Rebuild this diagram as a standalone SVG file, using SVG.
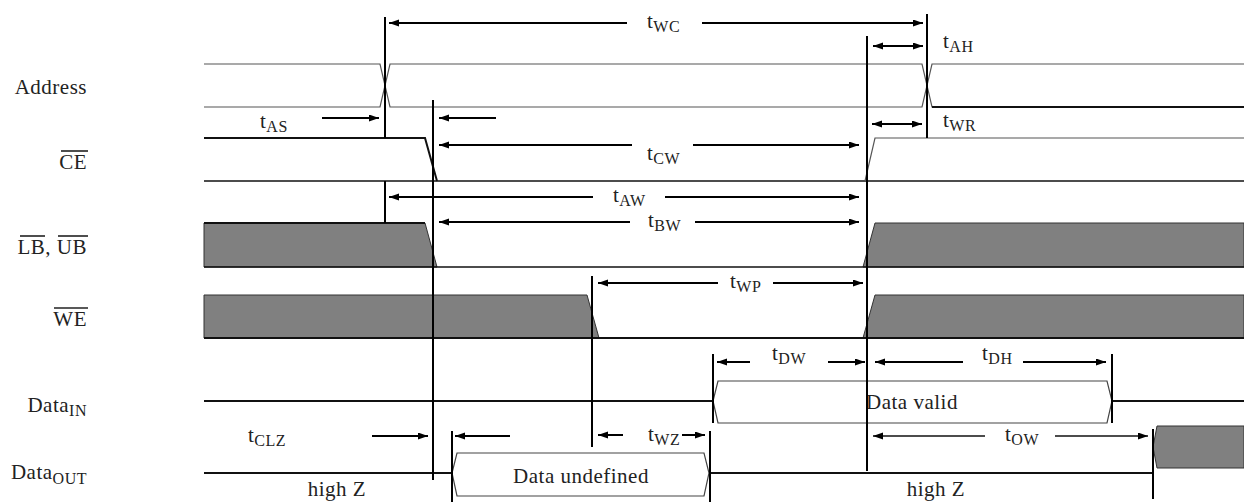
<svg xmlns="http://www.w3.org/2000/svg" width="1244" height="504" viewBox="0 0 1244 504">
<style>
text{font-family:"Liberation Serif","Times New Roman",serif;font-size:21px;fill:#222;letter-spacing:0.5px}
.lbl{text-anchor:end}
.sub{font-size:16px}
.thin{fill:none;stroke:#555;stroke-width:1.2}
.thick{fill:none;stroke:#111;stroke-width:2}
.gray{fill:#808080;stroke:#333;stroke-width:1}
.hex{fill:#fff;stroke:#444;stroke-width:1.2}
.vl{stroke:#000;stroke-width:2}
.ar{stroke:#000;stroke-width:2;marker-end:url(#ah)}
.arw{stroke:#111;stroke-width:1.4;marker-end:url(#ah)}
.dar{stroke:#000;stroke-width:2;marker-start:url(#ah);marker-end:url(#ah)}
.ovl{stroke:#222;stroke-width:1.6}
</style>
<defs>
<marker id="ah" markerUnits="userSpaceOnUse" markerWidth="11" markerHeight="8" refX="10" refY="3.5" orient="auto-start-reverse">
<path d="M0,0 L10,3.5 L0,7 z" fill="#000"/>
</marker>
</defs>

<g id="labels">
<text class="lbl" x="87" y="94">Address</text>
<text class="lbl" x="87" y="169">CE</text>
<line class="ovl" x1="61" y1="151" x2="88" y2="151"/>
<text class="lbl" x="87" y="254">LB, UB</text>
<line class="ovl" x1="20" y1="236" x2="45" y2="236"/>
<line class="ovl" x1="58" y1="236" x2="88" y2="236"/>
<text class="lbl" x="87" y="326">WE</text>
<line class="ovl" x1="54" y1="308" x2="88" y2="308"/>
<text class="lbl" x="87" y="412">Data<tspan class="sub" dy="4">IN</tspan></text>
<text class="lbl" x="87" y="479">Data<tspan class="sub" dy="5">OUT</tspan></text>
</g>

<g id="address">
<path class="thin" d="M204,64 H380 L390,107 H922 L932,64 H1244"/>
<path class="thin" d="M204,107 H380 L390,64 H922 L932,107 H1244"/>
<line class="thick" x1="932" y1="107" x2="1244" y2="107"/>
</g>

<g id="ce">
<line class="thick" x1="204" y1="181" x2="1244" y2="181" style="stroke-width:1.6"/>
<path class="thick" d="M204,138 H425 L437,181"/>
<path class="thin" d="M865,181 L875,138 H1244"/>
</g>

<g id="lb-ub">
<polygon class="gray" points="204,223 425,223 437,267 204,267"/>
<polygon class="gray" points="863,267 875,223 1244,223 1244,267"/>
<line class="thick" x1="204" y1="223" x2="425" y2="223"/>
<line class="thick" x1="204" y1="267" x2="1244" y2="267" style="stroke-width:1.6"/>
</g>

<g id="we">
<polygon class="gray" points="204,295 587,295 599,338 204,338"/>
<polygon class="gray" points="863,338 875,295 1244,295 1244,338"/>
<line class="thick" x1="204" y1="338" x2="1244" y2="338"/>
</g>

<g id="data-in">
<line class="thick" x1="204" y1="401" x2="713" y2="401"/>
<polygon class="hex" points="713,401 718,381 1107,381 1112,401 1107,423 718,423"/>
<line class="thick" x1="1112" y1="401" x2="1244" y2="401"/>
<text x="912" y="409" text-anchor="middle">Data valid</text>
</g>

<g id="data-out">
<line class="thick" x1="204" y1="473" x2="452" y2="473"/>
<polygon class="hex" points="452,473 457,453 704,453 709,473 704,496 457,496"/>
<line class="thick" x1="709" y1="473" x2="1153" y2="473"/>
<polygon class="gray" points="1153,447 1157,426 1244,426 1244,468 1157,468"/>
<text x="581" y="483" text-anchor="middle">Data undefined</text>
<text x="337" y="496" text-anchor="middle">high Z</text>
<text x="936" y="496" text-anchor="middle">high Z</text>
</g>

<g id="connectors">
<line class="vl" x1="385" y1="17" x2="385" y2="138"/>
<line class="vl" x1="385" y1="181" x2="385" y2="223"/>
<line class="vl" x1="433" y1="100" x2="433" y2="480"/>
<line class="vl" x1="592" y1="276" x2="592" y2="447"/>
<line class="vl" x1="867" y1="36" x2="867" y2="471"/>
<line class="vl" x1="927" y1="14" x2="927" y2="138"/>
<line class="vl" x1="713" y1="354" x2="713" y2="423"/>
<line class="vl" x1="1112" y1="354" x2="1112" y2="423"/>
<line class="vl" x1="452" y1="431" x2="452" y2="502"/>
<line class="vl" x1="710" y1="431" x2="710" y2="502"/>
<line class="vl" x1="1153" y1="429" x2="1153" y2="499"/>

<line class="ar" x1="627" y1="23" x2="389" y2="23"/>
<line class="ar" x1="702" y1="23" x2="923" y2="23"/>
<line class="dar" x1="873" y1="46" x2="923" y2="46"/>
<line class="ar" x1="322" y1="118" x2="379" y2="118"/>
<line class="ar" x1="496" y1="118" x2="439" y2="118"/>
<line class="dar" x1="872" y1="124" x2="922" y2="124"/>
<line class="ar" x1="632" y1="145" x2="439" y2="145"/>
<line class="ar" x1="693" y1="145" x2="859" y2="145"/>
<line class="ar" x1="593" y1="197" x2="389" y2="197"/>
<line class="ar" x1="665" y1="197" x2="859" y2="197"/>
<line class="ar" x1="630" y1="222" x2="439" y2="222"/>
<line class="ar" x1="695" y1="222" x2="859" y2="222"/>
<line class="ar" x1="718" y1="283" x2="598" y2="283"/>
<line class="ar" x1="773" y1="283" x2="863" y2="283"/>
<line class="ar" x1="750" y1="362" x2="717" y2="362"/>
<line class="ar" x1="828" y1="362" x2="865" y2="362"/>
<line class="ar" x1="963" y1="362" x2="875" y2="362"/>
<line class="ar" x1="1023" y1="362" x2="1106" y2="362"/>
<line class="arw" x1="985" y1="436" x2="873" y2="436"/>
<line class="arw" x1="1055" y1="436" x2="1148" y2="436"/>
<line class="ar" x1="623" y1="435" x2="598" y2="435"/>
<line class="ar" x1="682" y1="435" x2="705" y2="435"/>
<line class="ar" x1="372" y1="436" x2="428" y2="436"/>
<line class="ar" x1="510" y1="436" x2="455" y2="436"/>
</g>

<g id="timing-labels">
<text x="647" y="28">t<tspan class="sub" dy="4">WC</tspan></text>
<text x="943" y="48">t<tspan class="sub" dy="4">AH</tspan></text>
<text x="260" y="128">t<tspan class="sub" dy="4">AS</tspan></text>
<text x="943" y="127">t<tspan class="sub" dy="4">WR</tspan></text>
<text x="647" y="160">t<tspan class="sub" dy="4">CW</tspan></text>
<text x="613" y="202">t<tspan class="sub" dy="4">AW</tspan></text>
<text x="648" y="227">t<tspan class="sub" dy="4">BW</tspan></text>
<text x="730" y="288">t<tspan class="sub" dy="4">WP</tspan></text>
<text x="772" y="360">t<tspan class="sub" dy="4">DW</tspan></text>
<text x="982" y="360">t<tspan class="sub" dy="4">DH</tspan></text>
<text x="1005" y="441">t<tspan class="sub" dy="4">OW</tspan></text>
<text x="648" y="441">t<tspan class="sub" dy="4">WZ</tspan></text>
<text x="248" y="442">t<tspan class="sub" dy="4">CLZ</tspan></text>
</g>
</svg>
